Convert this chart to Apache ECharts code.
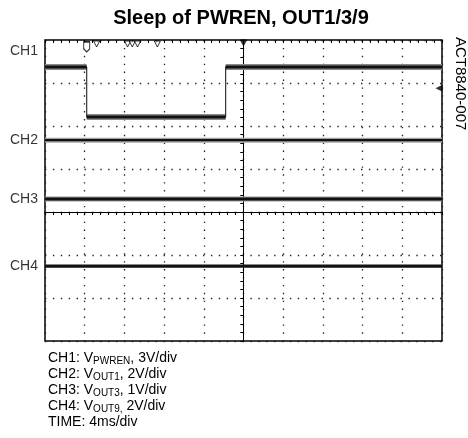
<!DOCTYPE html>
<html>
<head>
<meta charset="utf-8">
<script src="https://cdn.jsdelivr.net/npm/echarts@6/dist/echarts.min.js"></script>
<style>
  html, body { margin: 0; padding: 0; background: #fff; }
  #chart { width: 468px; height: 438px; }
</style>
</head>
<body>
<div id="chart"></div>
<script>
// scope capture, in divisions: x 0 = trigger point, y 0 = centre graticule line
const channelNames = ['CH1', 'CH2', 'CH3', 'CH4']
const channelLabelLevels = [3.74, 1.67, 0.30, -1.26]

const ch1Time = [-5, -3.95, -3.95, -0.45, -0.45, 5]
const ch1Level = [3.37, 3.37, 2.21, 2.21, 3.37, 3.37]
const flatTime = [-5, 5]
const ch2Level = [1.67, 1.67]
const ch3Level = [0.30, 0.30]
const ch4Level = [-1.26, -1.26]

// cursor / trigger markers along the graticule
const cursorTimes = [-3.70, -2.92, -2.80, -2.67, -2.17]
const triggerTime = 0
const ch1MarkerTime = -3.95
const ch1MarkerLevel = 3.84
const triggerLevel = 2.88

// text under the plot
const legendChannels = ['CH1', 'CH2', 'CH3', 'CH4']
const legendSignals = ['PWREN', 'OUT1', 'OUT3', 'OUT9,']
const legendScales = [', 3V/div', ', 2V/div', ', 1V/div', ' 2V/div']
const timeScale = 'TIME: 4ms/div'

const FONT = 'Liberation Sans, Arial, sans-serif'

function pairs (xs, ys) {
  return xs.map((x, i) => [x, ys[i]])
}

// one trace = grey noise band underneath + black line on top
function trace (data, haloWidth, haloColor, width) {
  const out = []
  if (haloWidth) {
    out.push({
      type: 'line', data: data, showSymbol: false, silent: true, z: 3,
      lineStyle: { color: haloColor, width: haloWidth }
    })
  }
  out.push({
    type: 'line', data: data, showSymbol: false, silent: true, z: 4,
    lineStyle: { color: '#111', width: width }
  })
  return out
}

const series = []
// CH1 edges are thin, the flat parts are thick
series.push({
  type: 'line', data: pairs(ch1Time, ch1Level), showSymbol: false, silent: true, z: 4,
  lineStyle: { color: '#333', width: 1.2 }
})
for (let i = 0; i < ch1Time.length - 1; i++) {
  if (ch1Level[i] === ch1Level[i + 1]) {
    series.push(...trace([[ch1Time[i], ch1Level[i]], [ch1Time[i + 1], ch1Level[i + 1]]], 6, '#8a8a8a', 3))
  }
}
series.push(...trace(pairs(flatTime, ch2Level), 5, '#a5a5a5', 2.2))
series.push(...trace(pairs(flatTime, ch3Level), 5, '#9a9a9a', 3))
series.push(...trace(pairs(flatTime, ch4Level), 0, null, 3.2))

// channel names left of the plot
series.push({
  type: 'scatter', symbolSize: 0, silent: true,
  data: channelNames.map((n, i) => ({ name: n, value: [-5, channelLabelLevels[i]] })),
  label: {
    show: true, position: 'left', distance: 7, formatter: '{b}',
    color: '#000', fontSize: 14, fontFamily: FONT
  }
})
// open cursor triangles at the top
series.push({
  type: 'scatter', silent: true, z: 6,
  data: cursorTimes.map(t => [t, 4]),
  symbol: 'triangle', symbolRotate: 180, symbolSize: [6, 6], symbolOffset: [0, 4],
  itemStyle: { color: '#fff', borderColor: '#000', borderWidth: 1 }
})
// trigger position
series.push({
  type: 'scatter', silent: true, z: 6,
  data: [[triggerTime, 4]],
  symbol: 'triangle', symbolRotate: 180, symbolSize: [8, 7], symbolOffset: [0, 3],
  itemStyle: { color: '#000' }
})
// CH1 ground marker
series.push({
  type: 'scatter', silent: true, z: 6,
  data: [[ch1MarkerTime, ch1MarkerLevel]],
  symbol: 'path://M0,0 L6,0 L6,7 L3,10 L0,7 Z', symbolSize: [6, 10],
  itemStyle: { color: '#fff', borderColor: '#000', borderWidth: 1.2 }
})
// trigger level
series.push({
  type: 'scatter', silent: true, z: 6,
  data: [[5, triggerLevel]],
  symbol: 'triangle', symbolRotate: 90, symbolSize: [7, 7], symbolOffset: [-3, 0],
  itemStyle: { color: '#000' }
})

const dotted = { color: '#222', type: [1.4, 6.5], width: 1.3 }
const black = { color: '#000', width: 1 }

function centreAxis (extra) {
  return Object.assign({
    type: 'value',
    axisLine: { show: true, onZero: true, lineStyle: black },
    axisTick: { show: true, length: 3, lineStyle: black },
    minorTick: { show: true, splitNumber: 5, length: 3, lineStyle: black },
    axisLabel: { show: false },
    splitLine: { show: false }
  }, extra)
}

const legendLines = legendChannels.map((c, i) =>
  '{a|' + c + ': V}{s|' + legendSignals[i] + '}{a|' + legendScales[i] + '}')
legendLines.push('{a|' + timeScale + '}')

const chart = echarts.init(document.getElementById('chart'))
chart.setOption({
  animation: false,
  backgroundColor: '#fff',
  title: {
    text: 'Sleep of PWREN, OUT1/3/9',
    left: 236, top: 3, textAlign: 'center',
    textStyle: { fontFamily: FONT, fontWeight: 'bold', fontSize: 20, color: '#000' }
  },
  grid: {
    left: 45, right: 26, top: 40, bottom: 97,
    show: true, borderColor: '#000', borderWidth: 1.5, backgroundColor: 'transparent'
  },
  xAxis: [
    centreAxis({ min: -5, max: 5, interval: 1, splitLine: { show: true, lineStyle: dotted } }),
    centreAxis({
      min: -5, max: 5, interval: 1,
      axisLine: { show: true, onZero: true, onZeroAxisIndex: 0, lineStyle: black },
      axisTick: { show: true, inside: true, length: 3, lineStyle: black }
    }),
    centreAxis({
      min: -5, max: 5, interval: 1, position: 'top',
      axisLine: { show: false, onZero: false },
      axisTick: { show: true, inside: true, length: 3, lineStyle: black }
    })
  ],
  yAxis: [
    centreAxis({ min: -3, max: 4, interval: 1, splitLine: { show: true, lineStyle: dotted } }),
    centreAxis({
      min: -3, max: 4, interval: 1,
      axisLine: { show: true, onZero: true, onZeroAxisIndex: 0, lineStyle: black },
      axisTick: { show: true, inside: true, length: 3, lineStyle: black }
    })
  ],
  graphic: [
    {
      type: 'text', x: 48, y: 350,
      style: {
        text: legendLines.join('\n'),
        fill: '#000',
        rich: {
          a: { fontFamily: FONT, fontSize: 14, lineHeight: 16, fill: '#000' },
          s: { fontFamily: FONT, fontSize: 10, lineHeight: 16, fill: '#000', verticalAlign: 'bottom' }
        }
      }
    },
    {
      type: 'text', x: 460, y: 37, rotation: -Math.PI / 2,
      style: {
        text: 'ACT8840-007', fill: '#000',
        fontFamily: FONT, fontSize: 15,
        align: 'left', verticalAlign: 'middle'
      }
    }
  ],
  series: series
})
</script>
</body>
</html>
